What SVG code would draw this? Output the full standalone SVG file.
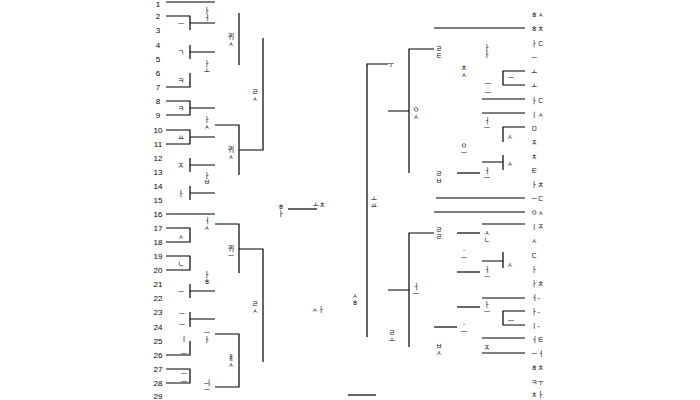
<svg xmlns="http://www.w3.org/2000/svg" width="700" height="400" viewBox="0 0 700 400">
<style>
.l{stroke:#000;stroke-width:1.2;fill:none}
text{font-family:"Liberation Sans","Noto Sans CJK KR",sans-serif;fill:#000;dominant-baseline:central}
.t{opacity:0.99}
.n{font-size:8px;text-anchor:middle}
.j{font-size:7px;text-anchor:middle}
.r{font-size:7px;text-anchor:start}
</style>
<rect width="700" height="400" fill="#fff"/>
<g id="connectors" class="l">
<path d="M166 2H215"/>
<path d="M166 16H190V30M190 23H215"/>
<path d="M190 45V59M190 52H215"/>
<path d="M190 73V87H166"/>
<path d="M239 13V65"/>
<path d="M263 38V150H239"/>
<path d="M166 101H190V115H166M190 108H215"/>
<path d="M166 130H190V144H166M190 137H215"/>
<path d="M215 125H239V175"/>
<path d="M190 158V172M190 165H215"/>
<path d="M190 186V200M190 193H215"/>
<path d="M166 214H215"/>
<path d="M215 224H239V273M239 249H263V362"/>
<path d="M166 228H190V242H166"/>
<path d="M166 256H190V270H166"/>
<path d="M190 284V298M190 291H215"/>
<path d="M190 312V327M190 319H215"/>
<path d="M215 334H239V387H215"/>
<path d="M190 341V355H166"/>
<path d="M166 369H190V383H166"/>
<path d="M288 209H317"/>
<path d="M388 64H367V337"/>
<path d="M348 395H376"/>
<path d="M434 28H525"/>
<path d="M434 49H409V173M388 111H409"/>
<path d="M436 198H525"/>
<path d="M434 212H525"/>
<path d="M434 233H409V347M388 290H409"/>
<path d="M525 71H503V85H525"/>
<path d="M482 99H525"/>
<path d="M482 113H525"/>
<path d="M525 127H503V142"/>
<path d="M503 155V170M482 162H503"/>
<path d="M457 173H480"/>
<path d="M482 224H525"/>
<path d="M457 233H480"/>
<path d="M503 252V268M482 261H503"/>
<path d="M457 272H480"/>
<path d="M482 298H525"/>
<path d="M457 307H480"/>
<path d="M525 311H503V325H525"/>
<path d="M434 327H457"/>
<path d="M482 338H525"/>
<path d="M482 353H525"/>
</g>
<g id="numbers" class="t">
<text class="n" x="158" y="4">1</text>
<text class="n" x="158" y="16">2</text>
<text class="n" x="158" y="30">3</text>
<text class="n" x="158" y="45">4</text>
<text class="n" x="158" y="59">5</text>
<text class="n" x="158" y="73">6</text>
<text class="n" x="158" y="87">7</text>
<text class="n" x="158" y="101">8</text>
<text class="n" x="158" y="115">9</text>
<text class="n" x="158" y="130">10</text>
<text class="n" x="158" y="144">11</text>
<text class="n" x="158" y="158">12</text>
<text class="n" x="158" y="172">13</text>
<text class="n" x="158" y="186">14</text>
<text class="n" x="158" y="200">15</text>
<text class="n" x="158" y="214">16</text>
<text class="n" x="158" y="228">17</text>
<text class="n" x="158" y="242">18</text>
<text class="n" x="158" y="256">19</text>
<text class="n" x="158" y="270">20</text>
<text class="n" x="158" y="284">21</text>
<text class="n" x="158" y="298">22</text>
<text class="n" x="158" y="312">23</text>
<text class="n" x="158" y="327">24</text>
<text class="n" x="158" y="341">25</text>
<text class="n" x="158" y="355">26</text>
<text class="n" x="158" y="369">27</text>
<text class="n" x="158" y="383">28</text>
<text class="n" x="158" y="396">29</text>
</g>
<g id="left-labels" class="t">
<text class="j" x="181" y="23">ㅡ</text>
<text class="j" x="181" y="52">ㄱ</text>
<text class="j" x="181" y="80">ㅋ</text>
<text class="j" x="181" y="108">ㅋ</text>
<text class="j" x="181" y="137">ㅛ</text>
<text class="j" x="181" y="165">ㅈ</text>
<text class="j" x="181" y="193">ㅏ</text>
<text class="j" x="181" y="236">ㅅ</text>
<text class="j" x="181" y="263">ㄴ</text>
<text class="j" x="181" y="291">ㅡ</text>
<text class="j" x="182" y="313">ㅡ</text>
<text class="j" x="182" y="324">ㅡ</text>
<text class="j" x="184" y="338">ㅣ</text>
<text class="j" x="184" y="353">ㅡ</text>
<text class="j" x="184" y="373">ㅡ</text>
<text class="j" x="184" y="381">ㅡ</text>
<text class="j" x="207" y="10">ㅏ</text><text class="j" x="207" y="17">ㅓ</text>
<text class="j" x="207" y="63">ㅏ</text><text class="j" x="207" y="70">ㅗ</text>
<text class="j" x="207" y="119">ㅏ</text><text class="j" x="207" y="126">ㅅ</text>
<text class="j" x="207" y="175">ㅏ</text><text class="j" x="207" y="181">ㅂ</text>
<text class="j" x="207" y="220">ㅓ</text><text class="j" x="207" y="227">ㅅ</text>
<text class="j" x="207" y="274">ㅏ</text><text class="j" x="207" y="281">ㅎ</text>
<text class="j" x="207" y="332">ㅡ</text><text class="j" x="207" y="339">ㅏ</text>
<text class="j" x="207" y="382">ㅢ</text><text class="j" x="207" y="389">ㅡ</text>
<text class="j" x="231" y="36">퀴</text><text class="j" x="231" y="43">ㅅ</text>
<text class="j" x="231" y="149">퀴</text><text class="j" x="231" y="156">ㅅ</text>
<text class="j" x="231" y="248">퀴</text><text class="j" x="231" y="255">ㅡ</text>
<text class="j" x="231" y="357">ㅒ</text><text class="j" x="231" y="364">ㅅ</text>
<text class="j" x="255" y="91">ㄹ</text><text class="j" x="255" y="98">ㅅ</text>
<text class="j" x="255" y="303">ㄹ</text><text class="j" x="255" y="310">ㅅ</text>
</g>
<g id="middle-labels" class="t">
<text class="j" x="281" y="206">ㅎ</text><text class="j" x="281" y="213">ㅏ</text>
<text class="j" x="319" y="204">ㅗㅊ</text>
<text class="j" x="318" y="309">ㅅㅏ</text>
<text class="j" x="374" y="198">ㅗ</text><text class="j" x="374" y="205">ㅛ</text>
<text class="j" x="355" y="295">ㅅ</text><text class="j" x="355" y="302">ㅎ</text>
<text class="j" x="391" y="64">ㅜ</text>
<text class="j" x="392" y="332">ㄹ</text><text class="j" x="392" y="339">ㅗ</text>
<text class="j" x="416" y="109">ㅇ</text><text class="j" x="416" y="116">ㅅ</text>
<text class="j" x="416" y="286">ㅓ</text><text class="j" x="416" y="293">ㅡ</text>
<text class="j" x="439" y="48">ㄹ</text><text class="j" x="439" y="55">ㅌ</text>
<text class="j" x="439" y="173">ㄹ</text><text class="j" x="439" y="180">ㅂ</text>
<text class="j" x="439" y="229">ㄹ</text><text class="j" x="439" y="236">ㄹ</text>
<text class="j" x="439" y="345">ㅂ</text><text class="j" x="439" y="352">ㅅ</text>
<text class="j" x="464" y="67">ㅊ</text><text class="j" x="464" y="74">ㅅ</text>
<text class="j" x="464" y="145">ㅇ</text><text class="j" x="464" y="152">ㅡ</text>
<text class="j" x="464" y="250">ㆍ</text><text class="j" x="464" y="257">ㅡ</text>
<text class="j" x="464" y="324">ㆍ</text><text class="j" x="464" y="331">ㅡ</text>
<text class="j" x="487" y="47">ㅏ</text><text class="j" x="487" y="54">ㅏ</text>
<text class="j" x="488" y="83">ㅡ</text>
<text class="j" x="488" y="92">ㅡ</text>
<text class="j" x="487" y="120">ㅓ</text><text class="j" x="487" y="127">ㅡ</text>
<text class="j" x="487" y="170">ㅓ</text><text class="j" x="487" y="177">ㅡ</text>
<text class="j" x="487" y="232">ㅅ</text><text class="j" x="487" y="239">ㄴ</text>
<text class="j" x="487" y="269">ㅓ</text><text class="j" x="487" y="276">ㅡ</text>
<text class="j" x="487" y="304">ㅏ</text><text class="j" x="487" y="311">ㅡ</text>
<text class="j" x="487" y="347">ㅈ</text>
<text class="j" x="511" y="77">ㅡ</text>
<text class="j" x="510" y="136">ㅅ</text>
<text class="j" x="510" y="163">ㅅ</text>
<text class="j" x="510" y="264">ㅅ</text>
<text class="j" x="511" y="320">ㅡ</text>
</g>
<g id="right-labels" class="t">
<text class="r" x="531" y="14">ㅎㅅ</text>
<text class="r" x="531" y="28">ㅎㅊ</text>
<text class="r" x="531" y="43">ㅏㄷ</text>
<text class="r" x="531" y="57">ㅡ</text>
<text class="r" x="531" y="71">ㅗ</text>
<text class="r" x="531" y="85">ㅗ</text>
<text class="r" x="531" y="100">ㅏㄷ</text>
<text class="r" x="531" y="114">ㅣㅅ</text>
<text class="r" x="531" y="128">ㅁ</text>
<text class="r" x="531" y="142">ㅈ</text>
<text class="r" x="531" y="156">ㅊ</text>
<text class="r" x="531" y="170">ㅌ</text>
<text class="r" x="531" y="184">ㅏㅊ</text>
<text class="r" x="531" y="198">ㅡㄷ</text>
<text class="r" x="531" y="212">ㅇㅅ</text>
<text class="r" x="531" y="226">ㅣㅈ</text>
<text class="r" x="531" y="240">ㅅ</text>
<text class="r" x="531" y="255">ㄷ</text>
<text class="r" x="531" y="269">ㅏ</text>
<text class="r" x="531" y="283">ㅏㅊ</text>
<text class="r" x="531" y="297">ㅓ-</text>
<text class="r" x="531" y="311">ㅏ-</text>
<text class="r" x="531" y="325">ㅣ-</text>
<text class="r" x="531" y="339">ㅓㅌ</text>
<text class="r" x="531" y="353">ㅡㅓ</text>
<text class="r" x="531" y="367">ㅎㅊ</text>
<text class="r" x="531" y="382">ㅋㅜ</text>
<text class="r" x="531" y="394">ㅊㅏ</text>
</g>
</svg>
